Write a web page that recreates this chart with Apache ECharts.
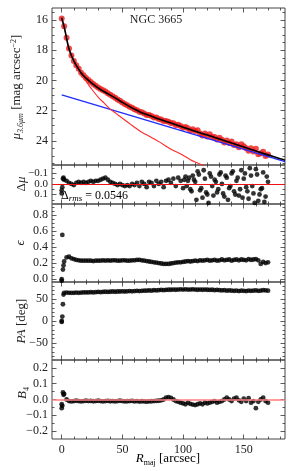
<!DOCTYPE html>
<html><head><meta charset="utf-8">
<script src="https://cdn.jsdelivr.net/npm/echarts@6/dist/echarts.min.js"></script>
<style>html,body{margin:0;padding:0;background:#fff}#c{width:293px;height:471px}</style>
</head><body><div id="c"></div>
<script>
// ---------- data ----------
const radius = [0,2,4,6,8,10,12,14,16,18,20,22,24,26,28,30,32,34,36,38,40,42,44,46,48,50,52,54,56,58,60,62,64,66,68,70,72,74,76,78,80,82,84,86,88,90,92,94,96,98,100,102,104,106,108,110,112,114,116,118,120,122,124,126,128,130,132,134,136,138,140,142,144,146,148,150,152,154,156,158,160,162,164,166,168,170];
const muData = [15.9,16.41,17.17,17.89,18.35,18.71,18.99,19.23,19.49,19.66,19.84,19.97,20.1,20.24,20.35,20.47,20.56,20.65,20.73,20.84,20.95,21.05,21.15,21.26,21.35,21.46,21.56,21.64,21.74,21.81,21.91,21.97,22.08,22.11,22.19,22.28,22.29,22.36,22.45,22.46,22.55,22.59,22.69,22.69,22.73,22.81,22.83,22.95,22.93,23.01,23.14,23.08,23.17,23.31,23.23,23.34,23.29,23.52,23.65,23.52,23.72,23.57,23.74,23.74,23.91,23.79,23.93,24.11,23.98,24.14,24.05,24.27,24.22,24.42,24.23,24.36,24.49,24.65,24.49,24.71,24.53,24.88,24.82,24.72,25.0,24.91];
const modelR = [0,1,2,3,4,5,6,8,10,12,14,16,18,20,25,30,35,40,45,50,55,60,65,70,75,80,85,90,100,110,120,130,140,150,160,170,180,184];
const modelTotal = [15.85,16.15,16.45,16.8,17.2,17.6,17.9,18.35,18.7,19.0,19.25,19.5,19.68,19.85,20.2,20.5,20.75,20.97,21.2,21.45,21.68,21.9,22.1,22.25,22.4,22.55,22.69,22.82,23.1,23.36,23.62,23.88,24.15,24.41,24.67,24.93,25.18,25.28];
const bulgeR = [0,2,4,6,8,10,12,14,16,18,20,25,30,35,40,45,50,55,60,65,70,80,90,100,106,110,116,120];
const bulgeMu = [15.8,16.45,17.2,17.9,18.35,18.72,19.05,19.32,19.58,19.82,20.05,20.6,21.1,21.5,21.9,22.2,22.5,22.8,23.1,23.38,23.6,24.05,24.55,24.95,25.25,25.4,25.6,25.75];
const diskR = [0,184];
const diskMu = [20.96,25.38];

const resid = [0.06,-0.04,-0.03,-0.01,0.0,0.01,-0.01,-0.02,-0.01,-0.02,-0.01,-0.02,-0.03,-0.02,-0.03,-0.03,-0.04,-0.05,-0.06,-0.04,-0.02,-0.01,0.0,0.01,0.0,0.01,0.02,0.01,0.02,0.0,0.01,-0.01,0.02,-0.02,0.0,0.03,-0.02,-0.01,0.02,-0.03,0.0,-0.02,0.03,-0.03,-0.04,-0.01,-0.05,0.02,-0.06,-0.03,0.04,-0.07,-0.03,0.05,-0.08,-0.02,-0.12,0.06,0.13,-0.05,0.1,-0.1,0.02,-0.04,0.08,-0.09,0.0,0.12,-0.06,0.04,-0.1,0.07,-0.03,0.11,-0.13,-0.05,0.03,0.14,-0.08,0.09,-0.14,0.16,0.05,-0.11,0.12,-0.02];
const innerR = [0,0.5,1,1.5];
const innerResid = [0.09,0.03,-0.05,-0.06];
const outerR = [101,103,105,107,109,111,113,115,117,119,121,123,125,127,129,131,133,135,137,139,141,143,145,147,149,151,153,155,157,159,161,163,165,167,169];
const outerResid = [-0.04,0.02,-0.06,0.07,-0.04,0.15,-0.09,0.04,-0.13,0.08,0.18,-0.07,0.11,-0.02,0.05,-0.11,0.09,-0.08,0.15,0.02,-0.12,0.1,-0.06,0.05,0.13,-0.1,0.07,-0.15,0.02,0.18,-0.09,0.1,0.04,0.17,-0.07];

const ellip = [0.0,0.22,0.27,0.28,0.26,0.25,0.24,0.235,0.23,0.23,0.23,0.23,0.23,0.225,0.23,0.23,0.23,0.235,0.23,0.235,0.23,0.235,0.235,0.23,0.23,0.235,0.235,0.23,0.23,0.235,0.235,0.24,0.24,0.235,0.23,0.225,0.22,0.215,0.21,0.205,0.2,0.195,0.19,0.19,0.19,0.195,0.2,0.205,0.21,0.21,0.215,0.22,0.225,0.22,0.225,0.23,0.225,0.235,0.23,0.235,0.24,0.23,0.235,0.24,0.23,0.235,0.245,0.235,0.24,0.245,0.23,0.24,0.245,0.235,0.245,0.24,0.235,0.25,0.24,0.245,0.25,0.235,0.19,0.215,0.2,0.21];
const innerEllip = [-0.02,0.55,0.12,0.17];

const posAngle = [-2,64,64.5,64,64,64,64.5,64,64.5,65,65,65,65.5,65,65.5,66,65.5,66,66.5,66,66.5,67,66.5,67,67,67.5,67,67.5,68,67.5,68,68.5,68,68.5,69,69,69.5,69,70,69.5,70,70.5,70,70.5,71,71,71.5,71,71.5,72,71.5,72,71.5,71.5,72,71.5,71,71.5,71,71.5,71,70.5,71,70,70.5,70,69.5,70,69,69.5,69,68.5,69,68,69,68.5,68,69,68.5,69,69.5,68.5,69,70,69.5,69];
const innerPa = [0,10,38,60];

const b4 = [-0.03,0.035,0.0,-0.01,-0.012,-0.01,-0.008,-0.01,-0.012,-0.01,-0.008,-0.01,-0.009,-0.011,-0.01,-0.008,-0.01,-0.012,-0.01,-0.009,-0.011,-0.01,-0.012,-0.01,-0.008,-0.01,-0.012,-0.011,-0.01,-0.009,-0.012,-0.01,-0.013,-0.011,-0.012,-0.014,-0.012,-0.011,-0.01,-0.009,-0.008,-0.005,0.0,0.012,0.015,0.01,0.0,-0.01,-0.015,-0.02,-0.025,-0.03,-0.02,-0.028,-0.032,-0.035,-0.03,-0.025,-0.03,-0.02,-0.025,-0.02,-0.015,-0.01,-0.02,-0.015,-0.01,0.0,0.012,0.0,-0.01,0.005,0.012,-0.005,-0.015,0.005,-0.01,0.008,-0.02,-0.01,-0.055,-0.015,0.0,0.012,-0.01,-0.02];
const innerB4 = [-0.055,-0.04,0.045,0.03];

const xTicks = [0,50,100,150];
const xMinorTicks = [10,20,30,40,60,70,80,90,110,120,130,140,160,170,180];
const muTicks = [16,18,20,22,24];
const muMinor = [15.5,16.5,17,17.5,18.5,19,19.5,20.5,21,21.5,22.5,23,23.5,24.5,25,25.5];
const dmuTicks = [-0.1,0,0.1];
const dmuMinor = [-0.15,-0.05,0.05,0.15];
const eTicks = [0,0.2,0.4,0.6,0.8];
const eMinor = [0.05,0.1,0.15,0.25,0.3,0.35,0.45,0.5,0.55,0.65,0.7,0.75,0.85,0.9];
const paTicks = [-50,0,50];
const paMinor = [-80,-70,-60,-40,-30,-20,-10,10,20,30,40,60,70,80];
const b4Ticks = [-0.2,-0.1,0,0.1,0.2];
const b4Minor = [-0.15,-0.05,0.05,0.15];

// ---------- layout ----------
const FONT = 'Liberation Serif';
const INK = '#333';
const L = 52, W = 233;
const grids = [
  {top: 8, height: 157},
  {top: 165, height: 39},
  {top: 204, height: 78},
  {top: 282, height: 78},
  {top: 360, height: 79}
];
const fmt1 = v => (Math.abs(v) < 1e-9 ? '0.0' : v.toFixed(1).replace('-', '\u2212'));
const fmt0 = v => String(Math.round(v)).replace('-', '\u2212');
const panels = [
  {min: 15.2, max: 25.6, inverse: true, major: muTicks, minor: muMinor, fmt: fmt0},
  {min: -0.18, max: 0.19, inverse: true, major: dmuTicks, minor: dmuMinor, fmt: fmt1},
  {min: -0.035, max: 0.935, inverse: false, major: eTicks, minor: eMinor, fmt: fmt1},
  {min: -88.6, max: 88.6, inverse: false, major: paTicks, minor: paMinor, fmt: fmt0},
  {min: -0.25, max: 0.25, inverse: false, major: b4Ticks, minor: b4Minor, fmt: fmt1}
];

const gridOpt = [], xAxes = [], yAxes = [];
const tickLine = {color: INK, width: 0.8};
const labelStyle = {fontFamily: FONT, fontSize: 12, color: '#222', margin: 4, hideOverlap: false};
grids.forEach((g, i) => {
  gridOpt.push({left: L, width: W, top: g.top, height: g.height, show: true, borderColor: '#444', borderWidth: 1, backgroundColor: 'transparent'});
  [['bottom', true], ['bottom', false], ['top', true], ['top', false]].forEach(([pos, major]) => {
    xAxes.push({
      gridIndex: i, type: 'value', min: -8, max: 184, position: pos,
      axisLine: {show: false, onZero: false}, splitLine: {show: false},
      axisTick: {show: true, inside: true, length: major ? 4.5 : 2.5, customValues: major ? xTicks : xMinorTicks, lineStyle: tickLine},
      axisLabel: Object.assign({}, labelStyle, {show: i === 4 && pos === 'bottom' && major, customValues: xTicks, margin: 5})
    });
  });
  const p = panels[i];
  [['left', true], ['left', false], ['right', true], ['right', false]].forEach(([pos, major]) => {
    const showLab = pos === 'left' && major && i !== 1;
    yAxes.push({
      gridIndex: i, type: 'value', min: p.min, max: p.max, inverse: p.inverse, position: pos,
      axisLine: {show: false, onZero: false}, splitLine: {show: false},
      axisTick: {show: true, inside: true, length: major ? 4.5 : 2.5, customValues: major ? p.major : p.minor, lineStyle: tickLine},
      axisLabel: Object.assign({}, labelStyle, {show: showLab, customValues: p.major, formatter: p.fmt})
    });
  });
});
// Residual panel: tick labels are close together, so each sits on its own label-only axis
const p1 = panels[1];
p1.major.forEach(v => {
  yAxes.push({
    gridIndex: 1, type: 'value', min: p1.min, max: p1.max, inverse: true, position: 'left',
    axisLine: {show: false, onZero: false}, splitLine: {show: false}, axisTick: {show: false},
    axisLabel: Object.assign({}, labelStyle, {fontSize: 11, customValues: [v], formatter: p1.fmt})
  });
});

const zip = (a, b) => a.map((v, k) => [v, b[k]]);
const dot = (i, data, extra) => Object.assign({
  type: 'scatter', xAxisIndex: i * 4, yAxisIndex: i * 4, data: data,
  symbol: 'circle', symbolSize: 4.8, itemStyle: {color: '#000'}, silent: true
}, extra || {});

const series = [
  dot(0, zip(radius, muData), {symbolSize: 6, itemStyle: {color: '#ee1c1c'}}),
  {type: 'line', xAxisIndex: 0, yAxisIndex: 0, data: zip(modelR, modelTotal), smooth: 0.3, showSymbol: false, lineStyle: {color: '#000', width: 1.6}, z: 4},
  {type: 'line', xAxisIndex: 0, yAxisIndex: 0, data: zip(diskR, diskMu), showSymbol: false, lineStyle: {color: '#1f2bff', width: 1.3}, z: 3},
  {type: 'line', xAxisIndex: 0, yAxisIndex: 0, data: zip(bulgeR, bulgeMu), smooth: 0.3, showSymbol: false, lineStyle: {color: '#ff2a2a', width: 1.1}, z: 3},
  dot(1, zip(radius, resid).concat(zip(innerR, innerResid), zip(outerR, outerResid)), {
    markLine: {silent: true, symbol: 'none', label: {show: false}, data: [{yAxis: 0}], lineStyle: {color: '#ee1111', width: 1.1, type: 'solid'}}
  }),
  dot(2, zip(radius, ellip).concat(zip(innerR, innerEllip))),
  dot(3, zip(radius, posAngle).concat(zip(innerR, innerPa))),
  dot(4, zip(radius, b4).concat(zip(innerR, innerB4)), {
    markLine: {silent: true, symbol: 'none', label: {show: false}, data: [{yAxis: 0}], lineStyle: {color: '#ff7f7f', width: 1.6, type: 'solid'}}
  })
];

const vText = (x, y, text, rich, size) => ({
  type: 'text', x: x, y: y, rotation: Math.PI / 2, silent: true,
  style: {text: text, rich: rich, font: (size || 13) + 'px "' + FONT + '"', fill: '#222', align: 'center', verticalAlign: 'middle'}
});
const richBase = {
  i: {fontFamily: FONT, fontStyle: 'italic', fontSize: 13, color: '#222'},
  n: {fontFamily: FONT, fontSize: 13, color: '#222'},
  sub: {fontFamily: FONT, fontStyle: 'italic', fontSize: 8, color: '#222', padding: [7, 0, 0, 0]},
  subu: {fontFamily: FONT, fontSize: 8, color: '#222', padding: [7, 0, 0, 0]},
  sup: {fontFamily: FONT, fontSize: 8, color: '#222', padding: [0, 0, 7, 0]}
};

const option = {
  animation: false,
  backgroundColor: '#fff',
  grid: gridOpt, xAxis: xAxes, yAxis: yAxes, series: series,
  graphic: [
    vText(17, 87, '{i|μ}{sub|3.6μm}{n| [mag arcsec}{sup|−2}{n|]}', richBase),
    vText(22, 184, '{n|Δ}{i|μ}', richBase),
    vText(21, 243, '{i|ϵ}', richBase),
    vText(22, 321, '{i|PA}{n| [deg]}', richBase),
    vText(23, 393, '{i|B}{subu|4}', richBase),
    {type: 'text', x: 156, y: 20, silent: true, style: {text: 'NGC 3665', font: '12px "' + FONT + '"', fill: '#222', align: 'center', verticalAlign: 'middle'}},
    {type: 'text', x: 61, y: 196, silent: true, style: {text: '{n|Δ}{sub|rms}{n| = 0.0546}', rich: {
      n: {fontFamily: FONT, fontSize: 12, color: '#333'},
      sub: {fontFamily: FONT, fontStyle: 'italic', fontSize: 9, color: '#333', padding: [6, 0, 0, 0]}
    }, align: 'left', verticalAlign: 'middle'}},
    {type: 'text', x: 168, y: 459, silent: true, style: {text: '{i|R}{subu|maj}{n| [arcsec]}', rich: richBase, align: 'center', verticalAlign: 'middle'}}
  ]
};
const chart = echarts.init(document.getElementById('c'), null, {renderer: 'canvas'});
chart.setOption(option);
</script></body></html>
